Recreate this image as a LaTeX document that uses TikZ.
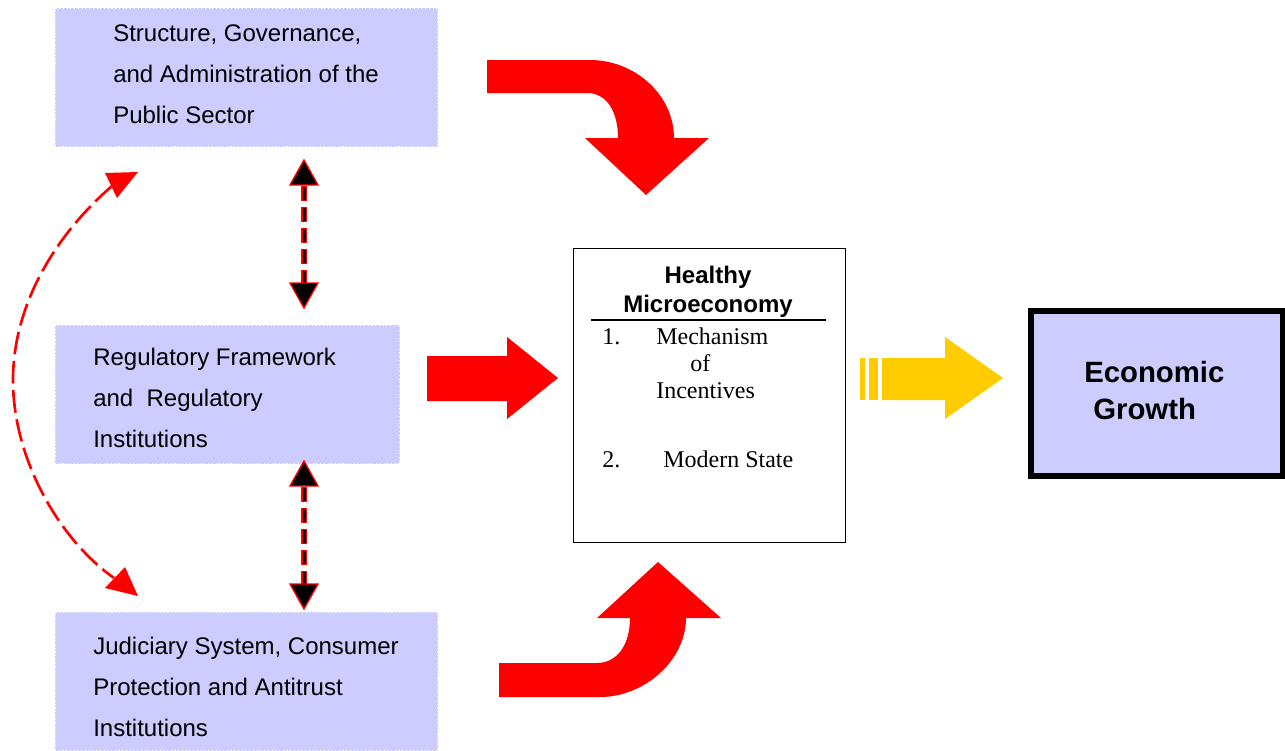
\documentclass[tikz,border=0pt]{standalone}
\usepackage{fontspec}
\setmainfont{Liberation Sans}
\newfontfamily\serifface{Liberation Serif}
\definecolor{boxfill}{HTML}{CCCCFF}
\definecolor{bred}{HTML}{FF0000}
\definecolor{byellow}{HTML}{FFCC00}
\begin{document}
\begin{tikzpicture}[x=0.75pt,y=-0.75pt,
  panel/.style={fill=boxfill, draw=white, dotted, line width=0.8pt, anchor=north west, inner sep=0pt, outer sep=0pt},
  boxlines/.style={anchor=base west, inner sep=0pt, font=\fontsize{18}{30.9}\selectfont},
  centerbox/.style={draw=black, line width=1pt, fill=white, anchor=north west, inner sep=0pt},
  growthbox/.style={draw=black, line width=4.5pt, fill=boxfill, anchor=north west, inner sep=0pt},
  headtext/.style={anchor=base, inner sep=0pt, font=\bfseries\fontsize{18}{21.75}\selectfont},
  itemtext/.style={anchor=base west, inner sep=0pt, font=\serifface\fontsize{18}{20.25}\selectfont},
  growthtext/.style={anchor=base west, inner sep=0pt, font=\bfseries\fontsize{22}{27.75}\selectfont},
  blockred/.style={fill=bred, draw=none},
  blockyellow/.style={fill=byellow, draw=none},
  shaftred/.style={draw=bred, line width=5pt, dash pattern=on 11.25pt off 4.5pt},
  shaftblack/.style={draw=black, line width=2.25pt, dash pattern=on 9.75pt off 6pt, dash phase=15pt},
  headblack/.style={fill=black, draw=bred, line width=1pt, line join=miter},
  curvedash/.style={draw=bred, line width=2pt, dash pattern=on 17pt off 5pt},
  headred/.style={fill=bred, draw=none}
]
\useasboundingbox (0,0) rectangle (1285,750);

% ---- left boxes
\node[panel, minimum width=287.25pt, minimum height=104.25pt] (b1) at (55,8) {};
\node[panel, minimum width=258.75pt, minimum height=104.25pt] (b2) at (55,325) {};
\node[panel, minimum width=287.25pt, minimum height=104.25pt] (b3) at (55,612) {};

\node[boxlines] (b1t) at (113,41) {\begin{tabular}[t]{@{}l@{}}Structure, Governance,\\and Administration of the\\Public Sector\end{tabular}};
\node[boxlines] (b2t) at (93,365) {\begin{tabular}[t]{@{}l@{}}Regulatory Framework\\and\ \ Regulatory\\Institutions\end{tabular}};
\node[boxlines] (b3t) at (93,654) {\begin{tabular}[t]{@{}l@{}}Judiciary System, Consumer\\Protection and Antitrust\\Institutions\end{tabular}};

% ---- centre box
\node[centerbox, minimum width=204pt, minimum height=220.5pt] (hm) at (573,248) {};
\node[headtext] (hmt) at (708,283) {\begin{tabular}[t]{@{}c@{}}Healthy\\Microeconomy\end{tabular}};
\coordinate (ulA) at (591,320);
\coordinate (ulB) at (826,320);
\draw[line width=2pt] (ulA) -- (ulB);
\node[itemtext] (n1) at (602,344) {1.};
\node[itemtext] (i1) at (656,344) {\begin{tabular}[t]{@{}l@{}}Mechanism\\\hspace{25.5pt}of\\Incentives\end{tabular}};
\node[itemtext] (n2) at (602,467) {2.};
\node[itemtext] (i2) at (663,467) {Modern State};

% ---- economic growth box
\node[growthbox, minimum width=189pt, minimum height=123.75pt] (eg) at (1028,308) {};
\node[growthtext] (egt) at (1084,382) {\begin{tabular}[t]{@{}l@{}}Economic\\\hspace{6.75pt}Growth\end{tabular}};

% ---- red block arrows
\path[blockred] (487,60) -- (590,60) .. controls (635,60) and (674,95) .. (674,138)
  -- (709,138) -- (646,195) -- (585,138) -- (618,138)
  .. controls (618,112) and (607,93) .. (587,93) -- (487,93) -- cycle;
\path[blockred] (427,356) -- (507,356) -- (507,337) -- (558,378) -- (507,419) -- (507,401) -- (427,401) -- cycle;
\path[blockred] (499,697) -- (600,697) .. controls (645,697) and (686,660) .. (686,618)
  -- (721,618) -- (658,562) -- (597,618) -- (630,618)
  .. controls (630,645) and (617,663) .. (597,663) -- (499,663) -- cycle;

% ---- yellow arrow
\path[blockyellow] (860,358) rectangle (865,400);
\path[blockyellow] (869,358) rectangle (878,400);
\path[blockyellow] (882,358) -- (945,358) -- (945,337) -- (1003,378) -- (945,419) -- (945,400) -- (882,400) -- cycle;

% ---- vertical double arrows
\coordinate (v1top) at (304,160);
\coordinate (v1s) at (304,186);
\coordinate (v1e) at (304,284);
\coordinate (v1bot) at (304,308);
\draw[shaftred] (v1s) -- (v1e);
\draw[shaftblack] (v1s) -- (v1e);
\filldraw[headblack] (v1top) -- ++(14,25) -- ++(-28,0) -- cycle;
\filldraw[headblack] (v1bot) -- ++(14,-25) -- ++(-28,0) -- cycle;

\coordinate (v2top) at (304,461);
\coordinate (v2s) at (304,487);
\coordinate (v2e) at (304,585);
\coordinate (v2bot) at (304,609);
\draw[shaftred] (v2s) -- (v2e);
\draw[shaftblack] (v2s) -- (v2e);
\filldraw[headblack] (v2top) -- ++(14,25) -- ++(-28,0) -- cycle;
\filldraw[headblack] (v2bot) -- ++(14,-25) -- ++(-28,0) -- cycle;

% ---- curved dashed arrow
\coordinate (cs) at (112,186);
\coordinate (cm) at (13,380);
\coordinate (ce) at (114,578);
\draw[curvedash] (cs) .. controls (50,240) and (13,310) .. (cm) .. controls (13,460) and (60,540) .. (ce);
\path[headred] (105,173) -- (138,172) -- (117,198) -- cycle;
\path[headred] (105,588) -- (138,596) -- (125,567) -- cycle;
\end{tikzpicture}
\end{document}
